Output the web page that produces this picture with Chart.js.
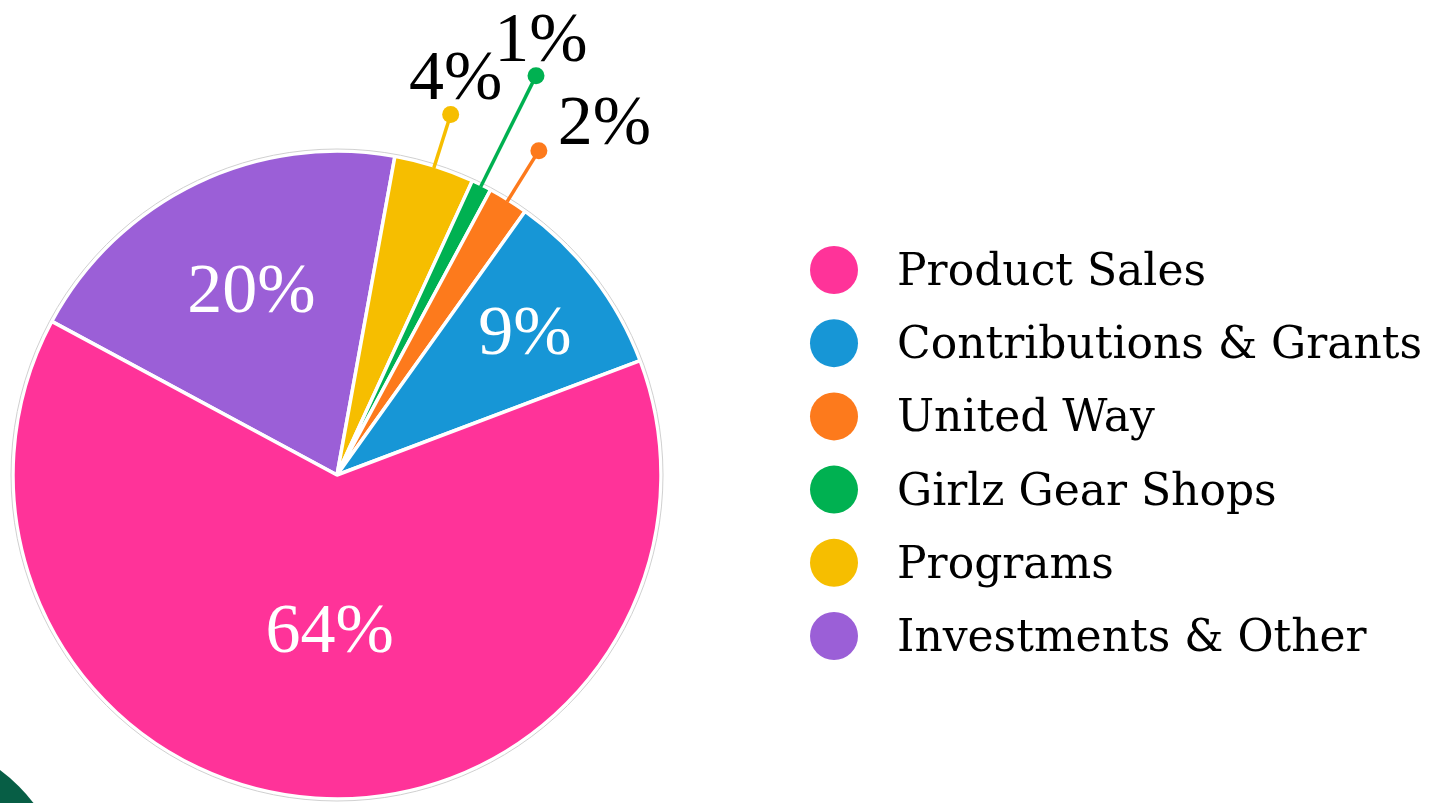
<!DOCTYPE html>
<html>
<head>
<meta charset="utf-8">
<script src="https://cdn.jsdelivr.net/npm/chart.js@4.4.0/dist/chart.umd.min.js"></script>
<style>
  html, body { margin: 0; padding: 0; background: #fff; overflow: hidden; }
  #wrap { position: relative; width: 1439px; height: 803px; }
</style>
</head>
<body>
<div id="wrap"><canvas id="revenue-pie"></canvas></div>
<script>
// legend order (top to bottom)
const categories = ['Product Sales', 'Contributions & Grants', 'United Way', 'Girlz Gear Shops', 'Programs', 'Investments & Other'];
const shares = [63.6, 9.4, 2, 1, 4, 20];
const colors = ['#ff3399', '#1796d6', '#fd7a1c', '#00b151', '#f6be00', '#9b5fd7'];

// label placement (style only)
const insideLabelRadius = { 'Product Sales': 0.48, 'Contributions & Grants': 0.72, 'Investments & Other': 0.63 };
const calloutLength = { 'United Way': 58, 'Girlz Gear Shops': 122, 'Programs': 54 };
const calloutSide = { 'United Way': 'right', 'Girlz Gear Shops': 'above', 'Programs': 'above' };

// the slices run counter-clockwise in the original, so feed them reversed
const chartLabels = categories.slice().reverse();
const chartData = shares.slice().reverse();
const chartColors = colors.slice().reverse();

const pieExtras = {
  id: 'pieExtras',
  beforeDraw(chart) {
    const ctx = chart.ctx;
    ctx.save();
    ctx.fillStyle = '#075e45';
    ctx.beginPath();
    ctx.arc(-100, 905, 168, 0, Math.PI * 2);
    ctx.fill();
    ctx.restore();
  },
  afterDraw(chart) {
    const ctx = chart.ctx;
    const meta = chart.getDatasetMeta(0);
    const first = meta.data[0];

    // thin grey rim round the pie
    ctx.save();
    ctx.strokeStyle = '#d0d0d0';
    ctx.lineWidth = 1;
    ctx.beginPath();
    ctx.arc(first.x, first.y, first.outerRadius + 2, 0, Math.PI * 2);
    ctx.stroke();
    ctx.restore();

    // percentage labels
    meta.data.forEach((arc, i) => {
      const name = chartLabels[i];
      const color = chartColors[i];
      const text = Math.round(chartData[i]) + '%';
      const mid = (arc.startAngle + arc.endAngle) / 2;
      const cx = Math.cos(mid), cy = Math.sin(mid);
      ctx.save();
      ctx.font = '70px "Liberation Serif", serif';
      if (insideLabelRadius[name] !== undefined) {
        const r = arc.outerRadius * insideLabelRadius[name];
        ctx.fillStyle = '#ffffff';
        ctx.textAlign = 'center';
        ctx.textBaseline = 'middle';
        ctx.fillText(text, arc.x + cx * r + 3, arc.y + cy * r + 3);
      } else {
        const r0 = arc.outerRadius - 2;
        const r1 = arc.outerRadius + calloutLength[name];
        const dx = arc.x + cx * r1, dy = arc.y + cy * r1;
        ctx.strokeStyle = color;
        ctx.lineWidth = 3.5;
        ctx.beginPath();
        ctx.moveTo(arc.x + cx * r0, arc.y + cy * r0);
        ctx.lineTo(dx, dy);
        ctx.stroke();
        ctx.fillStyle = color;
        ctx.beginPath();
        ctx.arc(dx, dy, 8.5, 0, Math.PI * 2);
        ctx.fill();
        ctx.fillStyle = '#000000';
        ctx.textBaseline = 'alphabetic';
        if (calloutSide[name] === 'right') {
          ctx.textAlign = 'left';
          ctx.fillText(text, dx + 19, dy - 7);
        } else {
          ctx.textAlign = 'center';
          ctx.fillText(text, dx + 5, dy - 15);
        }
      }
      ctx.restore();
    });

    // legend on the right
    ctx.save();
    ctx.font = '44px "DejaVu Serif", serif';
    ctx.textAlign = 'left';
    ctx.textBaseline = 'alphabetic';
    categories.forEach((name, i) => {
      const y = 270 + i * 73.2;
      ctx.fillStyle = colors[i];
      ctx.beginPath();
      ctx.arc(834, y, 24, 0, Math.PI * 2);
      ctx.fill();
      ctx.fillStyle = '#000000';
      ctx.fillText(name, 897, y + 15);
    });
    ctx.restore();
  }
};

new Chart(document.getElementById('revenue-pie'), {
  type: 'pie',
  data: {
    labels: chartLabels,
    datasets: [{
      data: chartData,
      backgroundColor: chartColors,
      borderColor: '#ffffff',
      borderWidth: 3.5
    }]
  },
  options: {
    responsive: true,
    maintainAspectRatio: false,
    animation: false,
    rotation: 298.3,
    radius: 324,
    layout: { padding: { left: 0, right: 765, top: 147, bottom: 0 } },
    plugins: {
      legend: { display: false },
      tooltip: { enabled: false }
    }
  },
  plugins: [pieExtras]
});
</script>
</body>
</html>
